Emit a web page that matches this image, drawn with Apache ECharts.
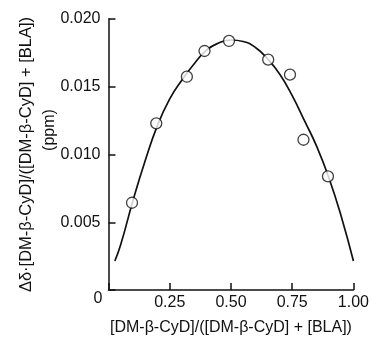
<!DOCTYPE html>
<html><head><meta charset="utf-8">
<script src="https://cdn.jsdelivr.net/npm/echarts@6/dist/echarts.min.js"></script>
<style>html,body{margin:0;padding:0;background:#fff}#c{width:372px;height:347px}</style>
</head><body><div id="c"></div>
<script>
// measured points
const pointX = [0.096, 0.195, 0.320, 0.392, 0.492, 0.652, 0.741, 0.796, 0.896];
const pointY = [0.00644, 0.01230, 0.01574, 0.01764, 0.01838, 0.01700, 0.01589, 0.01109, 0.00839];
// fitted curve
const curveX = [0.026, 0.05, 0.10, 0.15, 0.20, 0.25, 0.30, 0.35, 0.40, 0.45, 0.50, 0.55, 0.60, 0.65, 0.70, 0.75, 0.80, 0.85, 0.90, 0.95, 1.00];
const curveY = [0.00214, 0.00335, 0.00660, 0.00955, 0.01215, 0.01410, 0.01550, 0.01670, 0.01770, 0.01823, 0.01845, 0.01834, 0.01790, 0.01705, 0.01590, 0.01435, 0.01250, 0.01060, 0.00827, 0.00545, 0.00214];
const xTicks = ['0', '0.25', '0.50', '0.75', '1.00'];
const yTicks = ['0', '0.005', '0.010', '0.015', '0.020'];
const xName = '[DM-β-CyD]/([DM-β-CyD] + [BLA])';
const yName = 'Δδ·[DM-β-CyD]/([DM-β-CyD] + [BLA])';
const yUnit = '(ppm)';

const font = 'Arial, "Liberation Sans", Helvetica, sans-serif';
const ink = '#111';
const fs = 16;
const chart = echarts.init(document.getElementById('c'));
chart.setOption({
  animation: false,
  backgroundColor: '#fff',
  grid: {left: 108.5, right: 16.3, top: 19, bottom: 57, containLabel: false},
  xAxis: {
    type: 'value', min: 0, max: 1, interval: 0.25,
    name: xName, nameLocation: 'middle', nameGap: 30,
    nameTextStyle: {fontFamily: font, fontSize: fs, color: ink},
    axisLine: {show: true, onZero: false, lineStyle: {color: ink, width: 1.5}},
    axisTick: {show: true, inside: true, length: 7, lineStyle: {color: ink, width: 1.5}},
    splitLine: {show: false},
    axisLabel: {fontFamily: font, fontSize: fs, color: ink, margin: 5,
      formatter: function (v) { const i = Math.round(v / 0.25); return i === 0 ? '' : xTicks[i]; }}
  },
  yAxis: {
    type: 'value', min: 0, max: 0.02, interval: 0.005,
    name: yName, nameLocation: 'middle', nameGap: 74, nameRotate: 90,
    nameTextStyle: {fontFamily: font, fontSize: 16.5, color: ink},
    axisLine: {show: true, onZero: false, lineStyle: {color: ink, width: 1.5}},
    axisTick: {show: true, inside: true, length: 7, lineStyle: {color: ink, width: 1.5}},
    splitLine: {show: false},
    axisLabel: {fontFamily: font, fontSize: fs, color: ink, margin: 8,
      formatter: function (v) { const i = Math.round(v / 0.005); return i === 0 ? '' : yTicks[i]; }}
  },
  graphic: [
    {type: 'text', x: 98, y: 299,
      style: {text: xTicks[0], font: fs + 'px ' + font, fill: ink, align: 'center', verticalAlign: 'middle'}},
    {type: 'text', x: 50, y: 130, rotation: Math.PI / 2,
      style: {text: yUnit, font: fs + 'px ' + font, fill: ink, align: 'center', verticalAlign: 'middle'}}
  ],
  series: [
    {type: 'line', data: curveX.map((x, i) => [x, curveY[i]]), smooth: 0.5, showSymbol: false,
      lineStyle: {color: ink, width: 1.7}, z: 2},
    {type: 'scatter', data: pointX.map((x, i) => [x, pointY[i]]), symbol: 'circle', symbolSize: 11,
      itemStyle: {color: '#fff', borderColor: ink, borderWidth: 1.3}, z: 3}
  ]
});
</script></body></html>
